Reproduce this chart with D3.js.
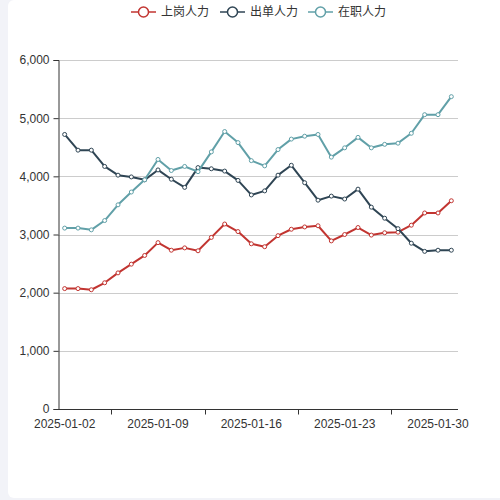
<!DOCTYPE html>
<html>
<head>
<meta charset="utf-8">
<script src="https://cdn.jsdelivr.net/npm/d3@7"></script>
<style>
  body { margin: 0; background: #f2f3f8; width: 500px; height: 500px; overflow: hidden; position: relative; }
  #card { position: absolute; left: 8px; top: 0; width: 510px; height: 498px; background: #fff; border-radius: 6px; }
  #chart { position: absolute; left: 0; top: 0; }
  text { font-family: "Noto Sans CJK SC", "Noto Sans", sans-serif; }
  .axis text { font-family: "Liberation Sans", Arial, sans-serif; }
</style>
</head>
<body>
<div id="card"></div>
<svg id="chart"></svg>
<script>
// dates shown on the x axis (Jan 2 .. Jan 31)
const dates = d3.range(2, 32).map(d => "2025-01-" + String(d).padStart(2, "0"));

const seriesNames = ["上岗人力", "出单人力", "在职人力"];
const seriesColors = ["#c23531", "#2f4554", "#61a0a8"];

const onDuty = [2070, 2070, 2050, 2170, 2340, 2490, 2640, 2860, 2730, 2770,
  2720, 2950, 3180, 3050, 2840, 2790, 2980, 3090, 3130, 3150,
  2890, 3000, 3120, 2990, 3030, 3040, 3160, 3370, 3370, 3580];
const issuing = [4720, 4450, 4450, 4170, 4020, 3990, 3940, 4110, 3950, 3810,
  4150, 4130, 4090, 3930, 3680, 3750, 4020, 4190, 3890, 3590,
  3660, 3610, 3780, 3470, 3280, 3100, 2850, 2710, 2730, 2730];
const employed = [3110, 3110, 3080, 3240, 3510, 3730, 3940, 4290, 4100, 4170,
  4080, 4420, 4770, 4580, 4270, 4180, 4460, 4640, 4690, 4720,
  4330, 4490, 4670, 4490, 4550, 4570, 4740, 5060, 5060, 5370];

const yTicks = [0, 1000, 2000, 3000, 4000, 5000, 6000];

const allSeries = [onDuty, issuing, employed];

const width = 500, height = 500;
const margin = { top: 60, right: 42, bottom: 91, left: 58 };

const svg = d3.select("#chart")
    .attr("width", width)
    .attr("height", height);

const x = d3.scaleBand()
    .domain(dates)
    .range([margin.left, width - margin.right])
    .padding(0);

const y = d3.scaleLinear()
    .domain([0, 6000])
    .range([height - margin.bottom, margin.top]);

const cx = d => x(d) + x.bandwidth() / 2;

// grid lines
svg.append("g")
    .selectAll("line")
    .data(yTicks.slice(1))
    .enter().append("line")
    .attr("x1", margin.left)
    .attr("x2", width - margin.right)
    .attr("y1", d => Math.round(y(d)) + 0.5)
    .attr("y2", d => Math.round(y(d)) + 0.5)
    .attr("stroke", "#ccc");

// y axis
const yAxis = svg.append("g")
    .attr("class", "axis")
    .attr("transform", `translate(${margin.left + 0.5},0)`)
    .call(d3.axisLeft(y).tickValues(yTicks).tickFormat(d3.format(",")).tickSize(5).tickPadding(4));
yAxis.select(".domain").attr("stroke", "#333");
yAxis.selectAll(".tick line").attr("stroke", "#333");
yAxis.selectAll("text").attr("fill", "#333").style("font-size", "12px");

// x axis: labels every 7th day, ticks at band edges
const labelIdx = [0, 7, 14, 21, 28];
const tickIdx = [4, 11, 18, 25];
const xg = svg.append("g")
    .attr("class", "axis")
    .attr("transform", `translate(0,${Math.round(y(0)) + 0.5})`);
xg.append("line")
    .attr("x1", margin.left)
    .attr("x2", width - margin.right)
    .attr("stroke", "#333");
xg.selectAll(".xtick")
    .data(tickIdx)
    .enter().append("line")
    .attr("x1", i => Math.round(x(dates[i])) + 0.5)
    .attr("x2", i => Math.round(x(dates[i])) + 0.5)
    .attr("y1", 0)
    .attr("y2", 5)
    .attr("stroke", "#333");
xg.selectAll(".xlabel")
    .data(labelIdx)
    .enter().append("text")
    .attr("x", i => cx(dates[i]))
    .attr("y", 18)
    .attr("text-anchor", "middle")
    .attr("fill", "#333")
    .style("font-size", "12px")
    .text(i => dates[i]);

// lines + points
const line = d3.line()
    .x((d, i) => cx(dates[i]))
    .y(d => y(d));

allSeries.forEach((vals, s) => {
    svg.append("path")
        .datum(vals)
        .attr("d", line)
        .attr("fill", "none")
        .attr("stroke", seriesColors[s])
        .attr("stroke-width", 2)
        .attr("stroke-linejoin", "round");

    svg.append("g")
        .selectAll("circle")
        .data(vals)
        .enter().append("circle")
        .attr("cx", (d, i) => cx(dates[i]))
        .attr("cy", d => y(d))
        .attr("r", 2)
        .attr("fill", "#fff")
        .attr("stroke", seriesColors[s])
        .attr("stroke-width", 1);
});

// legend
const legendX = [131, 220, 308];
const legend = svg.append("g")
    .selectAll("g")
    .data(seriesNames)
    .enter().append("g")
    .attr("transform", (d, i) => `translate(${legendX[i]},12)`);
legend.append("line")
    .attr("x1", 0).attr("x2", 25)
    .attr("stroke", (d, i) => seriesColors[i])
    .attr("stroke-width", 1.5);
legend.append("circle")
    .attr("cx", 12.5)
    .attr("r", 5)
    .attr("fill", "#fff")
    .attr("stroke", (d, i) => seriesColors[i])
    .attr("stroke-width", 1.5);
legend.append("text")
    .attr("x", 30)
    .attr("dy", "0.35em")
    .attr("fill", "#333")
    .style("font-size", "12px")
    .text(d => d);
</script>
</body>
</html>
